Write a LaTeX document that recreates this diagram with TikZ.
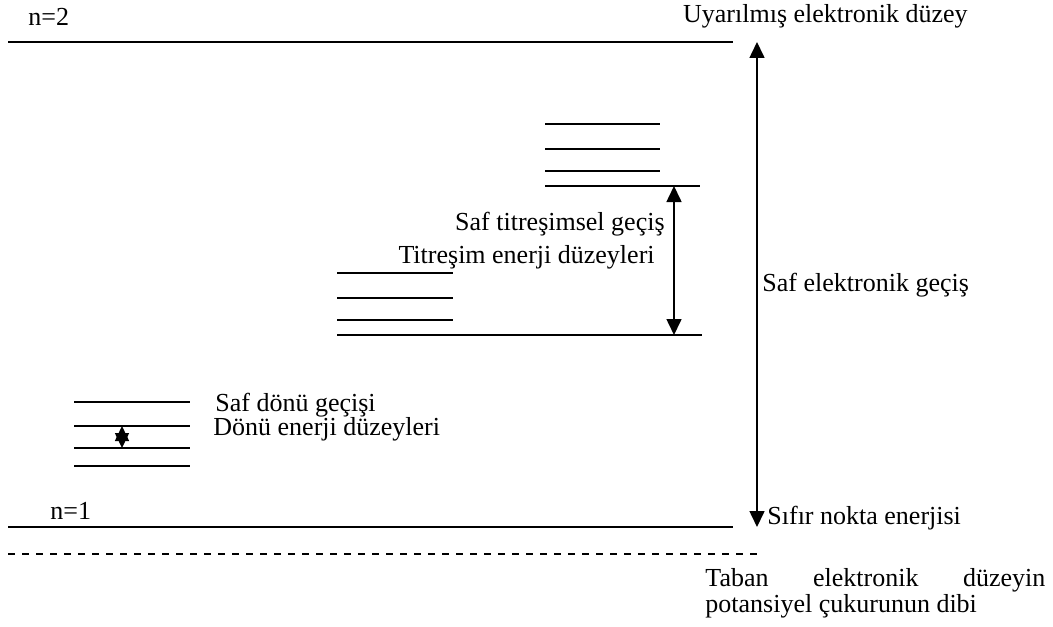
\documentclass[tikz,border=0pt]{standalone}
\usepackage{fontspec}
\setmainfont{Liberation Serif}
\usetikzlibrary{arrows.meta}

\tikzset{
    level/.style={line width=1pt},
    transition/.style={line width=0.8pt, {Triangle[width=7.5pt,length=8pt]}-{Triangle[width=7.5pt,length=8pt]}},
    smalltransition/.style={line width=0.8pt, {Triangle[width=7pt,length=7.5pt]}-{Triangle[width=7pt,length=7.5pt]}},
    label/.style={inner sep=0pt, font=\fontsize{13}{15}\selectfont}
}

\begin{document}
\begin{tikzpicture}
    \begin{scope}[x=0.5pt, y=-0.5pt]
        \useasboundingbox (0,0) rectangle (1053,626);
        % Electronic levels
        \coordinate (up) at (757,42);
        \coordinate (low) at (757,527);
        \draw[level] (8,42) -- (733,42);
        \draw[level] (8,527) -- (733,527);
        \node[label, anchor=west] (n2) at (28,17) {n=2};
        \node[label, anchor=west] (n1) at (50,511) {n=1};
        % Bottom of the potential well
        \draw[line width=0.9pt, dash pattern=on 3.5pt off 3.5pt] (8,554) -- (757,554);
        % Upper vibrational levels
        \foreach \y in {124,149,171}
            \draw[level] (545,\y) -- (660,\y);
        \draw[level] (545,186) -- (700,186);
        \coordinate (vtop) at (674,186);
        % Lower vibrational levels
        \foreach \y in {273,298,320}
            \draw[level] (337,\y) -- (453,\y);
        \draw[level] (337,335) -- (702,335);
        \coordinate (vbot) at (674,335);
        % Rotational levels
        \foreach \y in {402,426,448,466}
            \draw[level] (74,\y) -- (190,\y);
        \coordinate (rtop) at (122,426);
        \coordinate (rbot) at (122,448);
        % Transitions
        \draw[transition] (low) -- (up);
        \draw[transition] (vbot) -- (vtop);
        \draw[smalltransition] (rbot) -- (rtop);
        % Labels
        \node[label, anchor=east] (excited) at (968,16) {Uyarılmış elektronik düzey};
        \node[label, anchor=west] (elec) at (762,285) {Saf elektronik geçiş};
        \node[label, anchor=east] (vib) at (665,224) {Saf titreşimsel geçiş};
        \node[label, anchor=east] (viblev) at (655,257) {Titreşim enerji düzeyleri};
        \node[label, anchor=west] (rot) at (215,405) {Saf dönü geçişi};
        \node[label, anchor=west] (rotlev) at (213,429) {Dönü enerji düzeyleri};
        \node[label, anchor=west] (zero) at (767,518) {Sıfır nokta enerjisi};
        \node[label, anchor=west] (well1) at (705,580) {\makebox[170pt][s]{Taban\hfill elektronik\hfill düzeyin}};
        \node[label, anchor=west] (well2) at (705,606) {potansiyel çukurunun dibi};
    \end{scope}
\end{tikzpicture}
\end{document}
